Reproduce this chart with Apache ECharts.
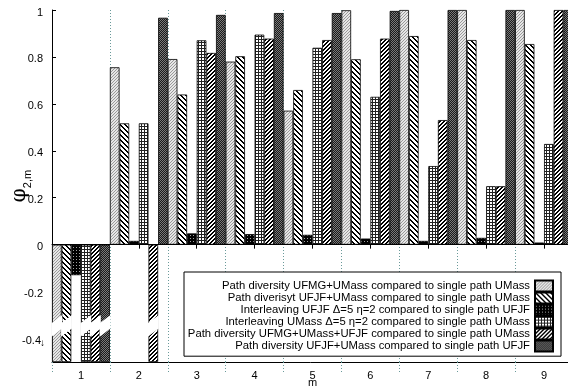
<!DOCTYPE html>
<html><head><meta charset="utf-8">
<script src="https://cdn.jsdelivr.net/npm/echarts@6/dist/echarts.min.js"></script>
<style>html,body{margin:0;padding:0;background:#fff}#c{width:568px;height:386px}</style>
</head><body><div id="c"></div>
<script>
const categories = ['1','2','3','4','5','6','7','8','9'];
const seriesNames = [
  'Path diversity UFMG+UMass compared to single path UMass',
  'Path diverisyt UFJF+UMass compared to single path UMass',
  'Interleaving UFJF \u0394=5 \u03b7=2 compared to single path UFJF',
  'Interleaving UMass \u0394=5 \u03b7=2 compared to single path UMass',
  'Path diversity UFMG+UMass+UFJF compared to single path UMass',
  'Path diversity UFJF+UMass compared to single path UFJF'
];
const s1 = [-0.5, 0.756, 0.791, 0.780, 0.571, 0.999, 1.0, 1.0, 1.0];
const s2 = [-0.5, 0.517, 0.640, 0.803, 0.659, 0.790, 0.889, 0.872, 0.855];
const s3 = [-0.13, 0.016, 0.048, 0.045, 0.042, 0.026, 0.016, 0.029, 0.009];
const s4 = [-0.5, 0.517, 0.871, 0.895, 0.839, 0.630, 0.335, 0.249, 0.429];
const s5 = [-0.5, -0.5, 0.817, 0.878, 0.872, 0.878, 0.531, 0.249, 1.0];
const s6 = [-0.5, 0.967, 0.979, 0.987, 0.987, 0.996, 1.0, 1.0, 1.0];
const yTickValues = [-0.4, -0.2, 0, 0.2, 0.4, 0.6, 0.8, 1];
const yTickLabels = ['-0.4\u2193', '-0.2', '0', '0.2', '0.4', '0.6', '0.8', '1'];

const allSeries = [s1, s2, s3, s4, s5, s6];
const Y_MIN = -0.5, Y_MAX = 1;
const FONT = '"Liberation Sans", Arial, Helvetica, sans-serif';
const GRID_COLOR = '#6a9a9a';

function makePattern(size, draw) {
  const c = document.createElement('canvas');
  c.width = size; c.height = size;
  const ctx = c.getContext('2d');
  draw(ctx, size);
  return { image: c, repeat: 'repeat' };
}
function px(ctx, x, y, col) { ctx.fillStyle = col; ctx.fillRect(x, y, 1, 1); }

const patterns = [
  makePattern(3, (ctx, n) => {
    ctx.fillStyle = '#e6e6e6'; ctx.fillRect(0, 0, n, n);
    for (let i = 0; i < n; i++) { px(ctx, i, n - 1 - i, '#9a9a9a'); }
  }),
  makePattern(5, (ctx, n) => {
    ctx.fillStyle = '#ffffff'; ctx.fillRect(0, 0, n, n);
    for (let y = 0; y < n; y++) for (let x = 0; x < n; x++) {
      const d = ((x - y) % n + n) % n;
      if (d === 0 || d === 1) px(ctx, x, y, '#000');
    }
  }),
  makePattern(3, (ctx, n) => {
    ctx.fillStyle = '#000'; ctx.fillRect(0, 0, n, n);
    px(ctx, 1, 1, '#a0a0a0');
  }),
  makePattern(3, (ctx, n) => {
    ctx.fillStyle = '#ffffff'; ctx.fillRect(0, 0, n, n);
    ctx.fillStyle = '#222'; ctx.fillRect(0, 0, n, 1); ctx.fillRect(0, 0, 1, n);
  }),
  makePattern(4, (ctx, n) => {
    ctx.fillStyle = '#ffffff'; ctx.fillRect(0, 0, n, n);
    for (let y = 0; y < n; y++) for (let x = 0; x < n; x++) {
      const d = (x + y) % n;
      if (d === 0 || d === 1) px(ctx, x, y, '#000');
    }
  }),
  makePattern(2, (ctx, n) => {
    ctx.fillStyle = '#1a1a1a'; ctx.fillRect(0, 0, n, n);
    px(ctx, 0, 0, '#7a7a7a'); px(ctx, 1, 1, '#7a7a7a');
  })
];

const barSeries = allSeries.map((d, i) => ({
  type: 'bar', name: seriesNames[i], data: d,
  xAxisIndex: 0, yAxisIndex: 0,
  barGap: '0%', barCategoryGap: '0%',
  itemStyle: { color: patterns[i], borderColor: '#000', borderWidth: 0.8 },
  emphasis: { disabled: true },
  silent: true
}));
barSeries[0].markLine = {
  silent: true, symbol: 'none', label: { show: false },
  lineStyle: { color: '#000', width: 1, type: 'solid' },
  data: [{ yAxis: 0 }]
};

const clipped = [];
allSeries.forEach((d, si) => d.forEach((v, ci) => { if (v <= Y_MIN) clipped.push([ci, v, si]); }));

const breakSeries = {
  type: 'custom', data: clipped, encode: { x: 0, y: 1 },
  xAxisIndex: 0, yAxisIndex: 0, z: 10, silent: true,
  renderItem: function (params, api) {
    const ci = api.value(0), si = api.value(2);
    const bw = api.size([1, 0])[0];
    const w = bw / 6;
    const cx = api.coord([ci, 0])[0];
    const x0 = cx - bw / 2 + si * w - 0.6;
    const x1 = x0 + w + 1.2;
    const tl = api.coord([ci, -0.335])[1];
    const tr = api.coord([ci, -0.300])[1];
    const bl = api.coord([ci, -0.392])[1];
    const br = api.coord([ci, -0.357])[1];
    return {
      type: 'polygon',
      shape: { points: [[x0, tl], [x1, tr], [x1, br], [x0, bl]] },
      style: { fill: '#fff', stroke: null }
    };
  }
};

const chart = echarts.init(document.getElementById('c'), null, { renderer: 'canvas' });
chart.setOption({
  animation: false,
  backgroundColor: '#fff',
  grid: { left: 52, right: -5, top: 10, bottom: 24, containLabel: false, outerBoundsMode: 'none' },
  legend: {
    data: seriesNames, orient: 'vertical', left: 184, top: 272,
    align: 'right', icon: 'rect', itemWidth: 18, itemHeight: 11, itemGap: -1,
    padding: [7.6, 7, 3.6, 2], backgroundColor: '#fff', borderColor: '#000', borderWidth: 1,
    selectedMode: false,
    textStyle: { fontSize: 11.3, color: '#000', fontFamily: FONT, width: 344, lineHeight: 11 }
  },
  xAxis: [{
    type: 'category', data: categories, position: 'bottom',
    axisLine: { onZero: false, lineStyle: { color: '#000', width: 1 } },
    axisTick: { show: true, length: 12, lineStyle: { color: GRID_COLOR, type: [1, 2] } },
    axisLabel: { color: '#000', fontSize: 11, margin: 8, fontFamily: FONT },
    splitLine: { show: true, lineStyle: { color: GRID_COLOR, type: [1, 2], width: 1 } },
    name: 'm', nameLocation: 'middle', nameGap: 15, nameMoveOverlap: false,
    nameTextStyle: { color: '#000', fontSize: 11, fontFamily: FONT }
  }, {
    type: 'category', data: categories, position: 'top',
    axisLine: { lineStyle: { color: '#000', width: 1 } },
    axisTick: { show: true, inside: true, alignWithLabel: true, length: 4, lineStyle: { color: '#000' } },
    axisLabel: { show: false }, splitLine: { show: false }
  }],
  yAxis: {
    type: 'value', min: Y_MIN, max: Y_MAX,
    axisLine: { show: true, lineStyle: { color: '#000', width: 1 } },
    axisTick: { show: true, inside: true, length: 4, customValues: yTickValues, lineStyle: { color: '#000' } },
    axisLabel: {
      customValues: yTickValues, color: '#000', fontSize: 11, fontFamily: FONT, margin: 9,
      padding: [5, 0, 0, 0],
      formatter: function (v) {
        const i = yTickValues.findIndex(t => Math.abs(t - v) < 1e-9);
        const s = i >= 0 ? yTickLabels[i] : '';
        return s.replace('\u2193', '{ar|\u2193}');
      },
      rich: { ar: { fontSize: 10, width: 1, align: 'left', padding: [4, 0, 0, 1], color: '#000' } }
    },
    splitLine: { show: false },
    name: '{a|\u03c6}{b|2,m}', nameLocation: 'middle', nameGap: 22, nameRotate: 90, nameMoveOverlap: false,
    nameTextStyle: {
      rich: {
        a: { fontSize: 20, fontFamily: '"DejaVu Serif", "Liberation Serif", serif', color: '#000' },
        b: { fontSize: 11, fontFamily: FONT, color: '#000', verticalAlign: 'bottom', padding: [0, 0, -3, 0] }
      }
    }
  },
  series: barSeries.concat([breakSeries])
});
</script>
</body></html>
